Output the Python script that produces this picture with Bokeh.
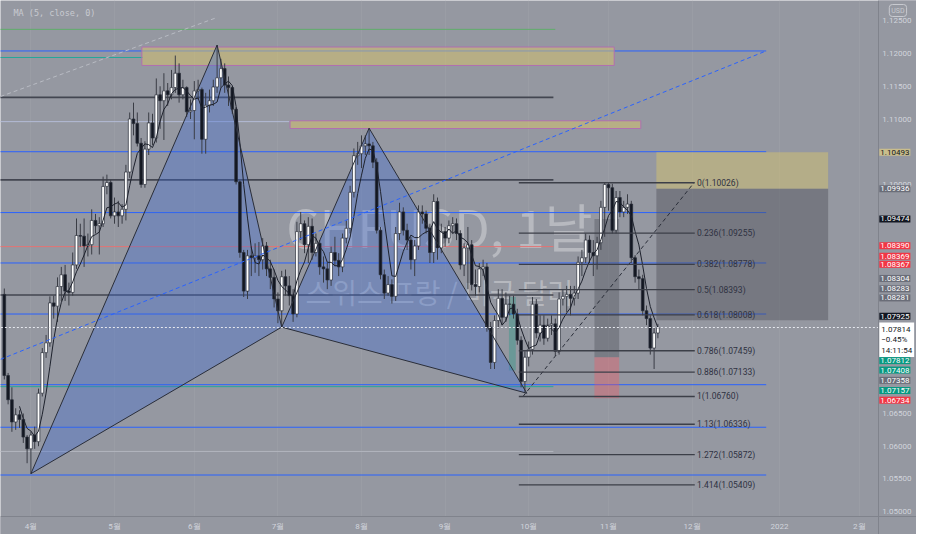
import numpy as np
import pandas as pd
from bokeh.plotting import figure
from bokeh.models import Range1d, FixedTicker, PrintfTickFormatter, Label, LinearAxis
from bokeh.core.properties import value
from bokeh.embed import file_html
from bokeh.resources import INLINE

# ---------------- data ----------------
START_DATE = "2021-03-23"
FIRST_OPEN = 1.0832

closes = [
    # late March
    1.0708, 1.0671, 1.0637, 1.0648, 1.0641, 1.0614, 1.0596,
    # April
    1.0617, 1.0607, 1.0681, 1.0743, 1.0758, 1.0819, 1.0814, 1.0844, 1.0862, 1.0837, 1.0835,
    1.0877, 1.0922, 1.0921, 1.0906, 1.0908, 1.0945, 1.0937, 1.0940, 1.0997, 1.1003, 1.0952,
    # May
    1.0958, 1.0952, 1.0962, 1.1019, 1.1100, 1.1093, 1.1063, 1.1000, 1.1054, 1.1094, 1.1071,
    1.1137, 1.1128, 1.1143, 1.1137, 1.1148, 1.1170, 1.1137, 1.1148, 1.1111, 1.1113,
    # June
    1.1143, 1.1145, 1.1069, 1.1121, 1.1128, 1.1149, 1.1163, 1.1177, 1.1152, 1.1148, 1.1115,
    1.1004, 1.0896, 1.0837, 1.0891, 1.0888, 1.0891, 1.0885, 1.0906, 1.0871, 1.0858, 1.0825,
    # July
    1.0807, 1.0859, 1.0845, 1.0830, 1.0802, 1.0928, 1.0940, 1.0908, 1.0936, 1.0896, 1.0910,
    1.0874, 1.0871, 1.0854, 1.0896, 1.0884, 1.0874, 1.0918, 1.0933, 1.0988, 1.1044, 1.1047,
    # August
    1.1059, 1.1062, 1.1059, 1.1034, 1.0930, 1.0862, 1.0834, 1.0847, 1.0829, 1.0925, 1.0958,
    1.0930, 1.0915, 1.0885, 1.0906, 1.0958, 1.0955, 1.0933, 1.0896, 1.0974, 1.0903, 1.0928,
    # September
    1.0918, 1.0937, 1.0940, 1.0925, 1.0877, 1.0903, 1.0908, 1.0847, 1.0844, 1.0871, 1.0874,
    1.0782, 1.0728, 1.0792, 1.0826, 1.0797, 1.0817, 1.0817, 1.0802, 1.0762, 1.0699, 1.0736,
    # October
    1.0748, 1.0817, 1.0773, 1.0785, 1.0765, 1.0785, 1.0787, 1.0745, 1.0825, 1.0829, 1.0832,
    1.0826, 1.0834, 1.0881, 1.0888, 1.0915, 1.0896, 1.0891, 1.0911, 1.0965, 1.1000,
    # November
    1.0995, 1.0930, 1.0980, 1.0958, 1.0965, 1.0970, 1.0888, 1.0859, 1.0856, 1.0807, 1.0795,
    1.0750, 1.0773, 1.0781,
]
highs = [
    1.0841, 1.0712, 1.0690, 1.0658, 1.0655, 1.0650, 1.0617,
    1.0622, 1.0630, 1.0688, 1.0750, 1.0770, 1.0829, 1.0830, 1.0858, 1.0874, 1.0877, 1.0850,
    1.0896, 1.0948, 1.0940, 1.0948, 1.0925, 1.0962, 1.0955, 1.0950, 1.1012, 1.1015, 1.1007,
    1.0980, 1.0975, 1.0970, 1.1030, 1.1110, 1.1125, 1.1110, 1.1071, 1.1066, 1.1110, 1.1108,
    1.1162, 1.1150, 1.1170, 1.1155, 1.1175, 1.1197, 1.1185, 1.1160, 1.1150, 1.1130,
    1.1158, 1.1160, 1.1148, 1.1140, 1.1145, 1.1160, 1.1213, 1.1192, 1.1185, 1.1165, 1.1150,
    1.1118, 1.1006, 1.0900, 1.0900, 1.0905, 1.0910, 1.0912, 1.0918, 1.0912, 1.0885, 1.0870,
    1.0835, 1.0868, 1.0870, 1.0860, 1.0840, 1.0943, 1.0958, 1.0945, 1.0950, 1.0948, 1.0925,
    1.0915, 1.0890, 1.0880, 1.0905, 1.0920, 1.0895, 1.0925, 1.0945, 1.0998, 1.1055, 1.1065,
    1.1075, 1.1075, 1.1086, 1.1065, 1.1040, 1.0935, 1.0870, 1.0860, 1.0855, 1.0935, 1.0972,
    1.0965, 1.0940, 1.0920, 1.0915, 1.0968, 1.0968, 1.0960, 1.0940, 1.0985, 1.0980, 1.0940,
    1.0935, 1.0945, 1.0950, 1.0948, 1.0930, 1.0910, 1.0935, 1.0915, 1.0870, 1.0880, 1.0885,
    1.0880, 1.0790, 1.0800, 1.0840, 1.0840, 1.0835, 1.0830, 1.0830, 1.0810, 1.0768, 1.0745,
    1.0760, 1.0828, 1.0825, 1.0800, 1.0800, 1.0795, 1.0800, 1.0795, 1.0835, 1.0840, 1.0845,
    1.0845, 1.0845, 1.0890, 1.0900, 1.0925, 1.0922, 1.0915, 1.0920, 1.0975, 1.1003,
    1.1002, 1.1001, 1.0990, 1.0990, 1.0975, 1.0985, 1.0975, 1.0892, 1.0870, 1.0862, 1.0815,
    1.0800, 1.0782, 1.0787,
]
lows = [
    1.0702, 1.0664, 1.0622, 1.0625, 1.0628, 1.0605, 1.0574,
    1.0558, 1.0596, 1.0600, 1.0676, 1.0735, 1.0752, 1.0795, 1.0790, 1.0822, 1.0822, 1.0815,
    1.0830, 1.0871, 1.0905, 1.0874, 1.0890, 1.0893, 1.0925, 1.0893, 1.0935, 1.0985, 1.0948,
    1.0940, 1.0935, 1.0940, 1.0945, 1.1010, 1.1075, 1.1058, 1.0995, 1.0995, 1.1045, 1.1060,
    1.1064, 1.1085, 1.1068, 1.1120, 1.1130, 1.1140, 1.1125, 1.1130, 1.1103, 1.1100,
    1.1069, 1.1130, 1.1047, 1.1047, 1.1110, 1.1120, 1.1140, 1.1148, 1.1140, 1.1120, 1.1108,
    1.1000, 1.0888, 1.0828, 1.0825, 1.0860, 1.0865, 1.0860, 1.0870, 1.0860, 1.0840, 1.0812,
    1.0788, 1.0782, 1.0830, 1.0815, 1.0790, 1.0797, 1.0915, 1.0895, 1.0880, 1.0885, 1.0890,
    1.0862, 1.0850, 1.0840, 1.0845, 1.0875, 1.0860, 1.0866, 1.0910, 1.0925, 1.0980, 1.1030,
    1.1025, 1.1045, 1.1045, 1.1025, 1.0925, 1.0855, 1.0825, 1.0830, 1.0818, 1.0822, 1.0915,
    1.0922, 1.0900, 1.0870, 1.0860, 1.0900, 1.0940, 1.0925, 1.0880, 1.0880, 1.0885, 1.0895,
    1.0905, 1.0910, 1.0925, 1.0915, 1.0870, 1.0860, 1.0840, 1.0838, 1.0830, 1.0835, 1.0860,
    1.0775, 1.0718, 1.0718, 1.0780, 1.0785, 1.0790, 1.0800, 1.0795, 1.0755, 1.0690, 1.0681,
    1.0722, 1.0740, 1.0765, 1.0760, 1.0755, 1.0760, 1.0770, 1.0738, 1.0740, 1.0815, 1.0805,
    1.0800, 1.0815, 1.0825, 1.0860, 1.0880, 1.0880, 1.0860, 1.0870, 1.0900, 1.0920,
    1.0960, 1.0925, 1.0925, 1.0950, 1.0950, 1.0955, 1.0880, 1.0850, 1.0840, 1.0800, 1.0785,
    1.0740, 1.0718, 1.0765,
]

month_labels = ["4월", "5월", "6월", "7월", "8월", "9월", "10월", "11월", "12월", "2022", "2월"]
month_starts = ["2021-04-01", "2021-05-01", "2021-06-01", "2021-07-01", "2021-08-01", "2021-09-01",
                "2021-10-01", "2021-11-01", "2021-12-01", "2022-01-01", "2022-02-01"]
price_ticks = [1.05, 1.055, 1.06, 1.065, 1.10, 1.11, 1.115, 1.12, 1.125]

# harmonic pattern points X, A, B, C, D  (trading-day index, price)
pattern_idx = [0, 49, 66, 89, 130.5]
pattern_price = [1.0558, 1.1213, 1.0782, 1.1086, 1.0681]

# horizontal levels
hl_price = [1.1237, 1.1204, 1.1194, 1.1133, 1.1096, 1.1050, 1.1007, 1.0957, 1.0905,
            1.0880, 1.0831, 1.0802, 1.0694, 1.0691, 1.0629, 1.0592, 1.0556]
hl_color = ["#5fae6a", "#2962ff", "#26a69a", "#434651", "#b3bbd6", "#2962ff", "#434651",
            "#2962ff", "#e57373", "#2962ff", "#434651", "#2962ff", "#2962ff", "#26a69a",
            "#2962ff", "#b2b5be", "#2962ff"]
hl_end = [138, 193.5, 29.5, 137.5, 68, 193.5, 137.5, 193.5, 137.5, 193.5, 137.5, 193.5,
          193.5, 137.5, 193.5, 137.5, 193.5]
hl_width = [1, 1, 1, 1.6, 1, 1, 1.6, 1, 1, 1, 1.6, 1, 1, 1, 1, 1, 1]

# fibonacci retracement
fib_text = ["0", "0.236", "0.382", "0.5", "0.618", "0.786", "0.886", "1", "1.13", "1.272", "1.414"]
fib_price = [1.10026, 1.09255, 1.08778, 1.08393, 1.08008, 1.07459, 1.07133, 1.06760,
             1.06336, 1.05872, 1.05409]
fib_start, fib_end = 128.4, 174.7

# rectangles: left, right, bottom, top
rect_left = [29.2, 68.2, 164.6, 164.6, 148.3, 148.3, 125.8]
rect_right = [153.5, 160.5, 209.8, 209.8, 154.8, 154.8, 127.6]
rect_bottom = [1.11818, 1.10855, 1.09936, 1.07925, 1.07358, 1.06734, 1.07157]
rect_top = [1.12100, 1.10973, 1.10493, 1.09936, 1.09474, 1.07358, 1.08281]
rect_fill = ["#d4c170", "#d4c170", "#d4c170", "#50535c", "#50535c", "#f7525f", "#089981"]
rect_alpha = [0.55, 0.55, 0.5, 0.45, 0.4, 0.35, 0.3]
rect_line = ["#b06fb0", "#b06fb0", None, None, None, None, None]

# trend lines (dashed)
trend_x = [[-8, 193.5], [-8, 49], [129.5, 174.5]]
trend_y = [[1.07327, 1.12041], [1.11344, 1.12552], [1.06760, 1.10026]]
trend_color = ["#2962ff", "#b8bbc3", "#2a2e39"]

# price-scale tags
tag_price = [1.10493, 1.09936, 1.09474, 1.08390, 1.08369, 1.08367, 1.08304, 1.08283,
             1.08281, 1.07925, 1.07812, 1.07408, 1.07358, 1.07157, 1.06734]
tag_bg = ["#c9bd8c", "#6a6d78", "#131722", "#f23645", "#f23645", "#f23645", "#6a6d78",
          "#6a6d78", "#6a6d78", "#131722", "#089981", "#089981", "#6a6d78", "#089981", "#f23645"]
tag_fg = ["#131722"] + ["#ffffff"] * 14
tag_shift = [0, 0, 0, 44, 35, 27, 17, 8, -1, 4, -33, -16, -23, -20, -2]

last_price = 1.07814
last_change = "−0.45%"
last_time = "14:11:54"

watermark_title = "CHFUSD, 1날"
watermark_subtitle = "스위스 프랑 / 미국 달러"

# ---------------- derived ----------------
n = len(closes)
dates = pd.bdate_range(START_DATE, periods=n + 260)
offset = int(np.searchsorted(dates.values, np.datetime64("2021-04-01")))
x = np.arange(n) - offset
opens = [FIRST_OPEN] + closes[:-1]
o = np.array(opens); c = np.array(closes)
h = np.maximum(np.array(highs), np.maximum(o, c))
l = np.minimum(np.array(lows), np.minimum(o, c))
up = c >= o
ma5 = pd.Series(closes).rolling(5).mean().values

tick_pos = [int(np.searchsorted(dates.values, np.datetime64(d))) - offset for d in month_starts]

BG = "#9598a1"
W, H = 916, 534
AXIS_X = 223.0          # price scale line (x, trading-day units)
X_START = -8.0
PX_PER_DAY = 3.80
X_END = X_START + W / PX_PER_DAY
Y_TOP, AXIS_Y = 1.12811, 1.04926   # time scale line sits at AXIS_Y
PX_PER_UNIT = 516 / (Y_TOP - AXIS_Y)
Y_BOTTOM = Y_TOP - H / PX_PER_UNIT
PANE_MID = (X_START + AXIS_X) / 2

p = figure(width=W, height=H, x_range=Range1d(X_START, X_END), y_range=Range1d(Y_BOTTOM, Y_TOP),
           x_axis_location=None, y_axis_location=None, toolbar_location=None, output_backend="svg",
           background_fill_color=BG, border_fill_color=BG,
           min_border_left=0, min_border_top=0, min_border_right=0, min_border_bottom=0)
p.outline_line_color = None
p.ygrid.grid_line_color = None
p.xgrid.ticker = FixedTicker(ticks=tick_pos)
p.xgrid.grid_line_color = "#a0a3ab"
p.xgrid.grid_line_alpha = 0.45

xaxis = LinearAxis(fixed_location=AXIS_Y, ticker=FixedTicker(ticks=tick_pos),
                   major_label_overrides={t: lab for t, lab in zip(tick_pos, month_labels)})
p.add_layout(xaxis, "below")
yaxis = LinearAxis(fixed_location=AXIS_X, ticker=FixedTicker(ticks=price_ticks),
                   formatter=PrintfTickFormatter(format="%.5f"))
p.add_layout(yaxis, "right")

for ax in (xaxis, yaxis):
    ax.axis_line_color = "#80838c"
    ax.major_tick_line_color = None
    ax.minor_tick_line_color = None
    ax.major_tick_out = 0
    ax.major_tick_in = 0
    ax.minor_tick_out = 0
    ax.major_label_text_color = "#d1d4dc"
    ax.major_label_text_font = "Roboto"
    ax.major_label_text_font_size = "8px"
    ax.major_label_standoff = 4
xaxis.major_label_standoff = 5

# watermark
p.text(x=[PANE_MID], y=[1.0938], text=[watermark_title], text_font=value("Noto Sans CJK KR"),
       text_font_size="52px", text_color="#ffffff", text_alpha=0.32,
       text_align="center", text_baseline="middle")
p.text(x=[PANE_MID], y=[1.0836], text=[watermark_subtitle], text_font=value("Noto Sans CJK KR"),
       text_font_size="28px", text_color="#ffffff", text_alpha=0.32,
       text_align="center", text_baseline="middle")

# horizontal levels
p.segment(x0=[-10] * len(hl_price), y0=hl_price, x1=hl_end, y1=hl_price,
          line_color=hl_color, line_width=hl_width)

# rectangles
p.quad(left=rect_left, right=rect_right, bottom=rect_bottom, top=rect_top,
       fill_color=rect_fill, fill_alpha=rect_alpha, line_color=rect_line, line_width=1)

# pattern fill
X, A, B, C, D = list(zip(pattern_idx, pattern_price))
p.patches(xs=[[X[0], A[0], B[0]], [B[0], C[0], D[0]]],
          ys=[[X[1], A[1], B[1]], [B[1], C[1], D[1]]],
          fill_color="#3d6bd6", fill_alpha=0.35, line_color=None)

# candles
p.segment(x0=x, y0=l, x1=x, y1=h, line_color="#3a3d45", line_width=1)
p.vbar(x=x, width=0.72, top=np.maximum(o, c), bottom=np.minimum(o, c),
       fill_color=["#ffffff" if u else "#131722" for u in up],
       line_color="#2a2e39", line_width=0.7)
p.line(x=x, y=ma5, line_color="#1e222d", line_width=1)

# pattern outlines
p.multi_line(xs=[[X[0], A[0], B[0], C[0], D[0]], [X[0], B[0], D[0]]],
             ys=[[X[1], A[1], B[1], C[1], D[1]], [X[1], B[1], D[1]]],
             line_color="#2a2e39", line_width=1)

# trend lines
p.multi_line(xs=trend_x, ys=trend_y, line_color=trend_color, line_width=1, line_dash="4 3")

# fibonacci
p.segment(x0=[fib_start] * len(fib_price), y0=fib_price, x1=[fib_end] * len(fib_price), y1=fib_price,
          line_color="#3c3f48", line_width=1.3)
p.text(x=[fib_end + 0.6] * len(fib_price), y=fib_price,
       text=[f"{t}({v:.5f})" for t, v in zip(fib_text, fib_price)],
       text_font=value("Roboto"), text_font_size="8.5px", text_color="#2f3241",
       text_align="left", text_baseline="middle")

# current price line
p.segment(x0=[-10], y0=[last_price], x1=[AXIS_X], y1=[last_price], line_color="#e6e8ee",
          line_dash="2 2", line_width=1)

# price-scale and time-scale backgrounds (cover drawings beyond the scale lines)
p.quad(left=[AXIS_X, X_START - 5], right=[X_END + 5, X_END + 5],
       bottom=[Y_BOTTOM - 0.01, Y_BOTTOM - 0.01], top=[Y_TOP + 0.01, AXIS_Y],
       fill_color=BG, line_color=None)

# legend
p.add_layout(Label(x=X_START, y=Y_TOP, x_offset=13, y_offset=-7, text="MA (5, close, 0)",
                   text_font="DejaVu Sans Mono", text_font_size="8.5px", text_color="#c8cad0",
                   text_baseline="top"))

# current price box, then the price-scale tags
p.add_layout(Label(x=AXIS_X, y=last_price, x_offset=1, y_offset=5,
                   text=f"{last_price:.5f}\n{last_change}\n{last_time}",
                   text_font="Roboto", text_font_size="8px", text_color="#131722",
                   text_align="left", text_baseline="top",
                   background_fill_color="#ffffff", padding=2))
for pr, bg, fg, sh in zip(tag_price, tag_bg, tag_fg, tag_shift):
    p.add_layout(Label(x=AXIS_X, y=pr, x_offset=1, y_offset=sh, text=f"{pr:.5f}",
                       text_font="Roboto", text_font_size="8px", text_color=fg,
                       text_align="left", text_baseline="middle",
                       background_fill_color=bg, padding=1))
p.add_layout(Label(x=AXIS_X, y=Y_TOP, x_offset=11, y_offset=-4, text="USD",
                   text_font="Roboto", text_font_size="7px", text_color="#c8cad0",
                   text_align="left", text_baseline="top",
                   border_line_color="#c8cad0", border_radius=3, padding=2))

open("out.html", "w").write(file_html(p, INLINE))
